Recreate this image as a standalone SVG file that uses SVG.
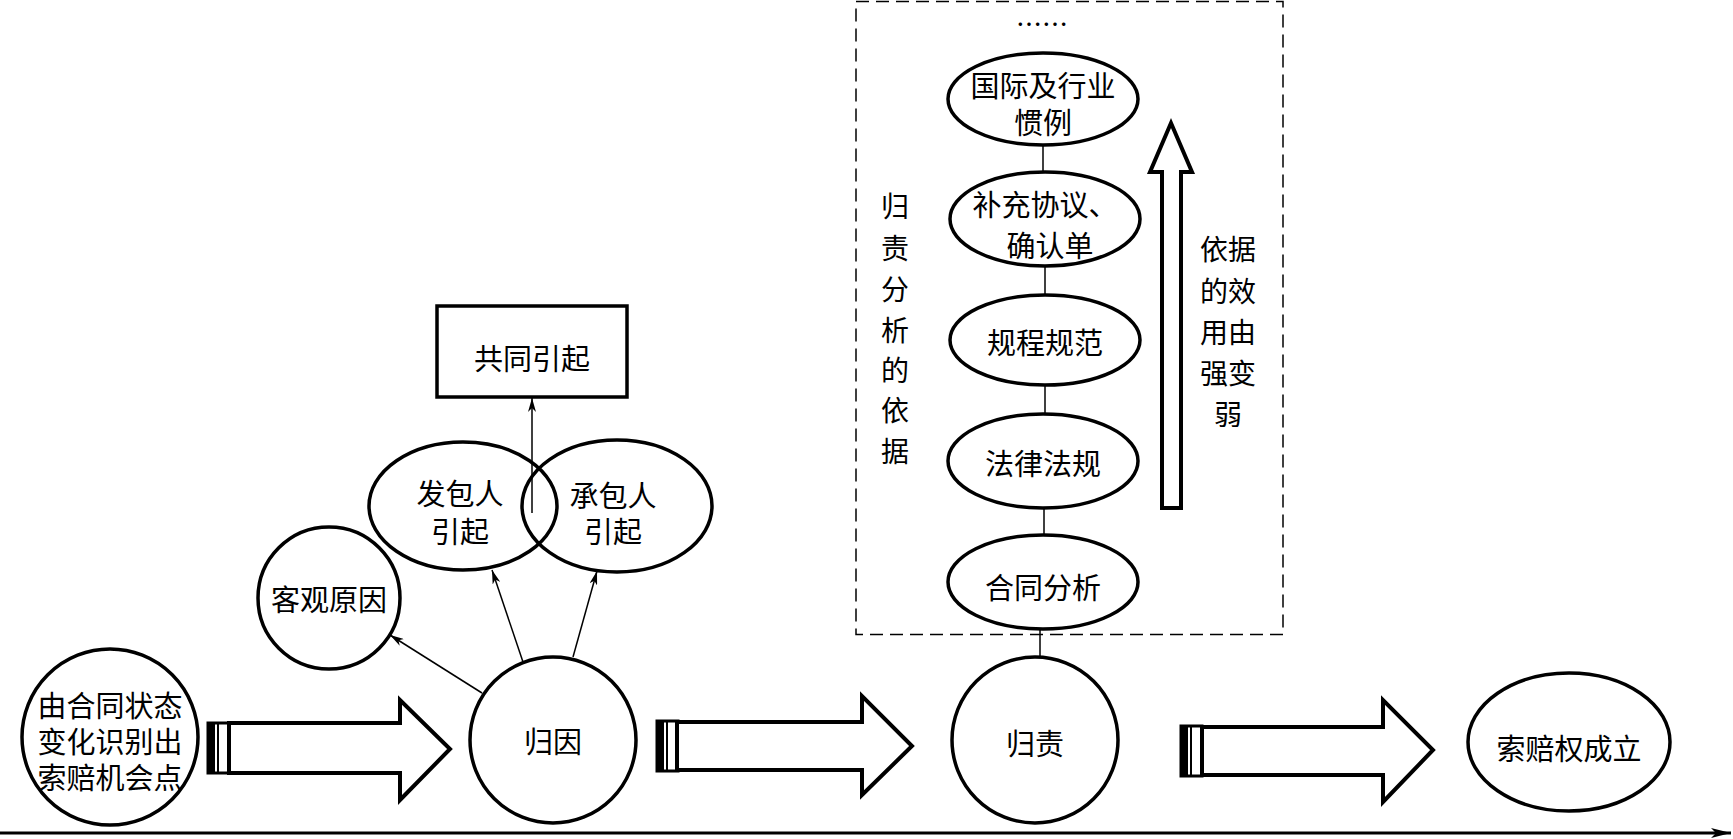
<svg xmlns="http://www.w3.org/2000/svg" width="1733" height="839" viewBox="0 0 1733 839">
<style>
  text { font-family: "Noto Sans CJK SC", "Noto Sans CJK JP", sans-serif; font-size: 29px; fill: #000; text-anchor: middle; dominant-baseline: central; }
  .node { fill: #fff; stroke: #000; stroke-width: 3.5; }
  .thin { stroke: #000; stroke-width: 1.5; fill: none; }
  .fat { fill: #fff; stroke: #000; stroke-width: 4; stroke-linejoin: miter; }
  .vt { font-size: 28px; }
</style>
<defs>
  <marker id="ah" viewBox="0 0 14 8" refX="14" refY="4" markerWidth="14" markerHeight="8" markerUnits="userSpaceOnUse" orient="auto">
    <path d="M0,0 L14,4 L0,8 L4,4 Z" fill="#000"/>
  </marker>
  <marker id="ahg" viewBox="0 0 20 10" refX="20" refY="5" markerWidth="20" markerHeight="10" markerUnits="userSpaceOnUse" orient="auto">
    <path d="M0,0 L20,5 L0,10 L5,5 Z" fill="#000"/>
  </marker>
  <g id="handle">
    <rect x="0" y="0" width="21" height="50" fill="#fff" stroke="#000" stroke-width="3"/>
    <rect x="0" y="0" width="7" height="50" fill="#000"/>
    <line x1="10" y1="0" x2="10" y2="50" stroke="#000" stroke-width="2"/>
  </g>
</defs>
<rect width="1733" height="839" fill="#fff"/>

<!-- dashed frame -->
<g id="frame">
  <rect x="856" y="1.5" width="427" height="633" fill="none" stroke="#000" stroke-width="1.5" stroke-dasharray="13,7"/>
</g>

<!-- connectors -->
<g id="connectors">
  <line class="thin" x1="482" y1="693" x2="390" y2="635" marker-end="url(#ah)"/>
  <line class="thin" x1="523" y1="662" x2="492" y2="570" marker-end="url(#ah)"/>
  <line class="thin" x1="573" y1="657" x2="597" y2="571" marker-end="url(#ah)"/>
  <line class="thin" x1="532" y1="513" x2="532" y2="398" marker-end="url(#ah)"/>
  <line class="thin" x1="1043" y1="145" x2="1043" y2="173"/>
  <line class="thin" x1="1045" y1="265" x2="1045" y2="296"/>
  <line class="thin" x1="1045" y1="385" x2="1045" y2="415"/>
  <line class="thin" x1="1044" y1="508" x2="1044" y2="536"/>
  <line class="thin" x1="1040" y1="628" x2="1040" y2="658"/>
  <!-- fat arrows -->
  <use href="#handle" x="208" y="723"/>
  <polygon class="fat" points="229,723 400,723 400,700 450,749 400,800 400,773 229,773"/>
  <use href="#handle" x="657" y="721"/>
  <polygon class="fat" points="677,722 862,722 862,696 912,746 862,795 862,770 677,770"/>
  <use href="#handle" x="1181" y="726"/>
  <polygon class="fat" points="1202,727 1383,727 1383,700 1433,750 1383,802 1383,775 1202,775"/>
  <!-- vertical hollow arrow -->
  <polygon class="fat" points="1162,508 1162,172 1150,172 1171,123 1192,172 1181,172 1181,508"/>
  <!-- ground axis -->
  <line x1="0" y1="833" x2="1731" y2="833" stroke="#000" stroke-width="3" marker-end="url(#ahg)"/>
</g>

<g id="n-start">
  <circle class="node" cx="110" cy="737" r="88"/>
  <text x="110" y="704">由合同状态</text>
  <text x="110" y="740">变化识别出</text>
  <text x="110" y="776">索赔机会点</text>
</g>

<g id="n-guiyin">
  <circle class="node" cx="553" cy="740" r="83"/>
  <text x="553" y="740">归因</text>
</g>

<g id="n-keguan">
  <circle class="node" cx="329" cy="598" r="71"/>
  <text x="329" y="598">客观原因</text>
</g>

<g id="n-fabao">
  <ellipse cx="463" cy="506" rx="94" ry="64" fill="none" stroke="#000" stroke-width="3.5"/>
  <text x="460" y="492">发包人</text>
  <text x="460" y="530">引起</text>
</g>

<g id="n-chengbao">
  <ellipse cx="617" cy="506" rx="95" ry="66" fill="none" stroke="#000" stroke-width="3.5"/>
  <text x="613" y="494">承包人</text>
  <text x="613" y="530">引起</text>
</g>

<g id="n-gongtong">
  <rect x="437" y="306" width="190" height="91" fill="#fff" stroke="#000" stroke-width="3.5"/>
  <text x="532" y="357">共同引起</text>
</g>

<g id="n-guize">
  <circle class="node" cx="1035" cy="740" r="83"/>
  <text x="1035" y="742">归责</text>
</g>

<g id="n-suopei">
  <ellipse class="node" cx="1569" cy="742" rx="101" ry="69"/>
  <text x="1569" y="747">索赔权成立</text>
</g>

<g id="n-dots">
  <text x="1042" y="22" style="font-size:26px">……</text>
</g>

<g id="n-guoji">
  <ellipse class="node" cx="1043" cy="99" rx="95" ry="46"/>
  <text x="1043" y="84">国际及行业</text>
  <text x="1043" y="121">惯例</text>
</g>

<g id="n-buchong">
  <ellipse class="node" cx="1045" cy="219" rx="95" ry="47"/>
  <text x="1045" y="203">补充协议、</text>
  <text x="1050" y="244">确认单</text>
</g>

<g id="n-guicheng">
  <ellipse class="node" cx="1045" cy="340" rx="95" ry="45"/>
  <text x="1045" y="341">规程规范</text>
</g>

<g id="n-falv">
  <ellipse class="node" cx="1043" cy="461" rx="95" ry="47"/>
  <text x="1043" y="462">法律法规</text>
</g>

<g id="n-hetong">
  <ellipse class="node" cx="1043" cy="582" rx="95" ry="47"/>
  <text x="1043" y="586">合同分析</text>
</g>

<g id="label-left">
  <text class="vt" x="895" y="205">归</text>
  <text class="vt" x="895" y="247">责</text>
  <text class="vt" x="895" y="288">分</text>
  <text class="vt" x="895" y="329">析</text>
  <text class="vt" x="895" y="369">的</text>
  <text class="vt" x="895" y="409">依</text>
  <text class="vt" x="895" y="450">据</text>
</g>

<g id="label-right">
  <text class="vt" x="1228" y="248">依据</text>
  <text class="vt" x="1228" y="290">的效</text>
  <text class="vt" x="1228" y="331">用由</text>
  <text class="vt" x="1228" y="372">强变</text>
  <text class="vt" x="1228" y="413">弱</text>
</g>
</svg>
